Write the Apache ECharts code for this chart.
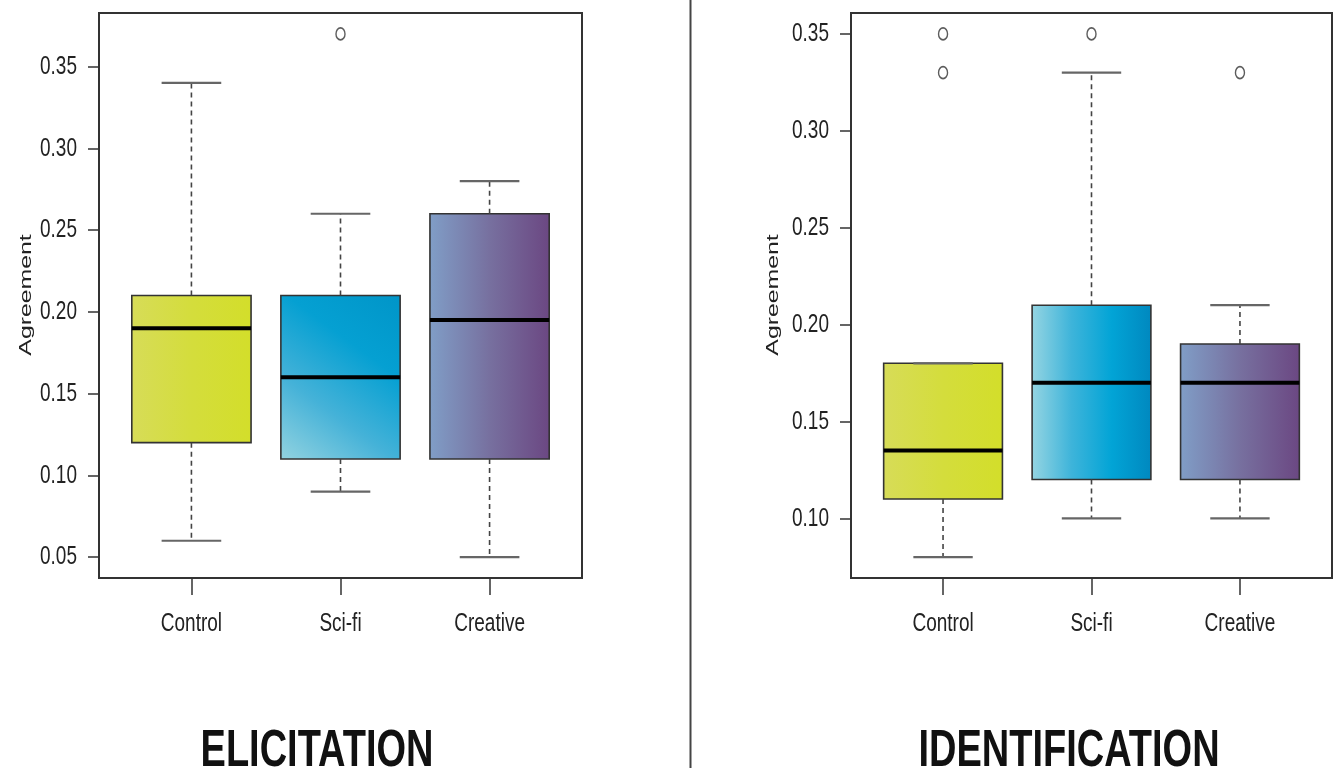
<!DOCTYPE html>
<html>
<head>
<meta charset="utf-8">
<script src="https://cdn.jsdelivr.net/npm/echarts@6/dist/echarts.min.js"></script>
<style>
html,body{margin:0;padding:0;background:#fff;}
#chart{width:1333px;height:774px;}
</style>
</head>
<body>
<div id="chart"></div>
<script>
// ---- data ----
const categories = ['Control', 'Sci-fi', 'Creative'];
const categoryPositions = [1, 2, 3];
// each box: [lower whisker, Q1, median, Q3, upper whisker]
const elicitationBoxes = [
  [0.06, 0.12, 0.19, 0.21, 0.34],
  [0.09, 0.11, 0.16, 0.21, 0.26],
  [0.05, 0.11, 0.195, 0.26, 0.28]
];
const elicitationOutliers = [[2, 0.37]];
const identificationBoxes = [
  [0.08, 0.11, 0.135, 0.18, 0.18],
  [0.10, 0.12, 0.17, 0.21, 0.33],
  [0.10, 0.12, 0.17, 0.19, 0.21]
];
const identificationOutliers = [[1, 0.35], [1, 0.33], [2, 0.35], [3, 0.33]];
const elicitationTicks = [0.05, 0.10, 0.15, 0.20, 0.25, 0.30, 0.35];
const identificationTicks = [0.10, 0.15, 0.20, 0.25, 0.30, 0.35];
const elicitationTickLabels = ['0.05', '0.10', '0.15', '0.20', '0.25', '0.30', '0.35'];
const identificationTickLabels = ['0.10', '0.15', '0.20', '0.25', '0.30', '0.35'];
const panelTitles = ['ELICITATION', 'IDENTIFICATION'];
const yAxisTitle = 'Agreement';

// ---- styles ----
const FONT = '"Liberation Sans", Arial, Helvetica, sans-serif';
const TEXT_STRETCH = 1.4;
const X_MIN = 0.38, X_MAX = 3.62;
const Y_RANGE = [[0.0372, 0.3828], [0.0692, 0.3608]];
const BOX_W = 0.8, CAP_W = 0.4;
function grad(dir, stops) {
  const d = dir === 'diag' ? [0, 1, 1, 0] : [0, 0, 1, 0];
  return new echarts.graphic.LinearGradient(d[0], d[1], d[2], d[3],
    stops.map((c, i) => ({ offset: i / (stops.length - 1), color: c })));
}
const palettes = [
  [grad('h', ['#d7dc58', '#d4dd3c', '#d3de2a']),
   grad('diag', ['#93d3e0', '#45b2d8', '#05a0d2', '#0095c8']),
   grad('h', ['#809ec7', '#77709f', '#6b4782'])],
  [grad('h', ['#d7dc58', '#d4dd3c', '#d3de2a']),
   grad('h', ['#96d5e2', '#3eb4da', '#02a4d6', '#0088bf']),
   grad('h', ['#809ec7', '#77709f', '#6b4782'])]
];

function makeRender(panel) {
  return function (params, api) {
    const x = api.value(0);
    const lo = api.coord([x, api.value(1)]);
    const q1 = api.coord([x, api.value(2)]);
    const md = api.coord([x, api.value(3)]);
    const q3 = api.coord([x, api.value(4)]);
    const hi = api.coord([x, api.value(5)]);
    const bw = api.size([BOX_W, 0])[0];
    const cw = api.size([CAP_W, 0])[0];
    const cx = md[0];
    const whisk = { stroke: '#444', lineWidth: 1.6, lineDash: [5, 4] };
    const cap = { stroke: '#666', lineWidth: 2.2 };
    return {
      type: 'group',
      children: [
        { type: 'rect', shape: { x: cx - bw / 2, y: q3[1], width: bw, height: q1[1] - q3[1] },
          style: { fill: palettes[panel][params.dataIndex], stroke: '#333', lineWidth: 1.6 } },
        { type: 'line', shape: { x1: cx, y1: q3[1], x2: cx, y2: hi[1] }, style: whisk },
        { type: 'line', shape: { x1: cx, y1: q1[1], x2: cx, y2: lo[1] }, style: whisk },
        { type: 'line', shape: { x1: cx - cw / 2, y1: hi[1], x2: cx + cw / 2, y2: hi[1] }, style: cap },
        { type: 'line', shape: { x1: cx - cw / 2, y1: lo[1], x2: cx + cw / 2, y2: lo[1] }, style: cap },
        { type: 'line', shape: { x1: cx - bw / 2, y1: md[1], x2: cx + bw / 2, y2: md[1] },
          style: { stroke: '#000', lineWidth: 4 } }
      ]
    };
  };
}

function boxData(boxes) {
  return boxes.map((b, i) => [categoryPositions[i]].concat(b));
}

// tick labels drawn through the axes' scales (api.coord), stretched vertically like the reference
function yLabelSeries(gi, ticks, labels) {
  return {
    type: 'custom', xAxisIndex: gi, yAxisIndex: gi, silent: true, clip: false, z: 5,
    encode: { x: 0, y: 1 },
    data: ticks.map(t => [X_MIN, t]),
    renderItem: function (params, api) {
      const p = api.coord([api.value(0), api.value(1)]);
      return { type: 'text', x: p[0] - 22, y: p[1], scaleY: TEXT_STRETCH,
        style: { text: labels[params.dataIndex], fontSize: 19, fontFamily: FONT, fill: '#222',
          align: 'right', verticalAlign: 'middle' } };
    }
  };
}
function xLabelSeries(gi) {
  return {
    type: 'custom', xAxisIndex: gi, yAxisIndex: gi, silent: true, clip: false, z: 5,
    encode: { x: 0, y: 1 },
    data: categoryPositions.map(c => [c, Y_RANGE[gi][0]]),
    renderItem: function (params, api) {
      const p = api.coord([api.value(0), api.value(1)]);
      return { type: 'text', x: p[0], y: p[1] + 46, scaleY: TEXT_STRETCH,
        style: { text: categories[params.dataIndex], fontSize: 19, fontFamily: FONT, fill: '#222',
          align: 'center', verticalAlign: 'middle' } };
    }
  };
}

function xAxisFor(gi) {
  return {
    gridIndex: gi, type: 'value', min: X_MIN, max: X_MAX,
    axisLine: { show: true, lineStyle: { color: '#333', width: 2 } },
    splitLine: { show: false },
    axisTick: { show: true, customValues: categoryPositions, length: 17, lineStyle: { color: '#333', width: 1.5 } },
    axisLabel: { show: false }
  };
}
function yAxisFor(gi, ticks) {
  return {
    gridIndex: gi, type: 'value', min: Y_RANGE[gi][0], max: Y_RANGE[gi][1],
    axisLine: { show: true, lineStyle: { color: '#333', width: 2 } },
    splitLine: { show: false },
    axisTick: { show: true, customValues: ticks, length: 11, lineStyle: { color: '#333', width: 1.5 } },
    axisLabel: { show: false }
  };
}

const chart = echarts.init(document.getElementById('chart'));
chart.setOption({
  animation: false,
  backgroundColor: '#fff',
  grid: [
    { left: 99, top: 13, width: 483, height: 565, show: true, borderColor: '#333', borderWidth: 2, backgroundColor: 'transparent' },
    { left: 851, top: 13, width: 481, height: 565, show: true, borderColor: '#333', borderWidth: 2, backgroundColor: 'transparent' }
  ],
  xAxis: [xAxisFor(0), xAxisFor(1)],
  yAxis: [yAxisFor(0, elicitationTicks), yAxisFor(1, identificationTicks)],
  series: [
    { type: 'custom', xAxisIndex: 0, yAxisIndex: 0, renderItem: makeRender(0),
      encode: { x: 0, y: [1, 2, 3, 4, 5] }, data: boxData(elicitationBoxes) },
    { type: 'custom', xAxisIndex: 1, yAxisIndex: 1, renderItem: makeRender(1),
      encode: { x: 0, y: [1, 2, 3, 4, 5] }, data: boxData(identificationBoxes) },
    { type: 'scatter', xAxisIndex: 0, yAxisIndex: 0, data: elicitationOutliers,
      symbol: 'circle', symbolSize: [9, 12],
      itemStyle: { color: 'rgba(0,0,0,0)', borderColor: '#333', borderWidth: 1.6 } },
    { type: 'scatter', xAxisIndex: 1, yAxisIndex: 1, data: identificationOutliers,
      symbol: 'circle', symbolSize: [9, 12],
      itemStyle: { color: 'rgba(0,0,0,0)', borderColor: '#333', borderWidth: 1.6 } },
    yLabelSeries(0, elicitationTicks, elicitationTickLabels),
    yLabelSeries(1, identificationTicks, identificationTickLabels),
    xLabelSeries(0),
    xLabelSeries(1)
  ],
  graphic: [
    { type: 'line', shape: { x1: 690.5, y1: 0, x2: 690.5, y2: 768 }, style: { stroke: '#444', lineWidth: 2 } },
    { type: 'text', x: 27, y: 295, rotation: Math.PI / 2, scaleX: 1.55,
      style: { text: yAxisTitle, fontSize: 16, fontFamily: FONT, fill: '#222', align: 'center', verticalAlign: 'middle' } },
    { type: 'text', x: 774, y: 295, rotation: Math.PI / 2, scaleX: 1.55,
      style: { text: yAxisTitle, fontSize: 16, fontFamily: FONT, fill: '#222', align: 'center', verticalAlign: 'middle' } },
    { type: 'text', x: 317, y: 752, scaleY: 1.37,
      style: { text: panelTitles[0], fontSize: 38, fontWeight: 'bold', fontFamily: FONT, fill: '#111', align: 'center', verticalAlign: 'middle' } },
    { type: 'text', x: 1069, y: 752, scaleY: 1.37,
      style: { text: panelTitles[1], fontSize: 38, fontWeight: 'bold', fontFamily: FONT, fill: '#111', align: 'center', verticalAlign: 'middle' } }
  ]
});
</script>
</body>
</html>
